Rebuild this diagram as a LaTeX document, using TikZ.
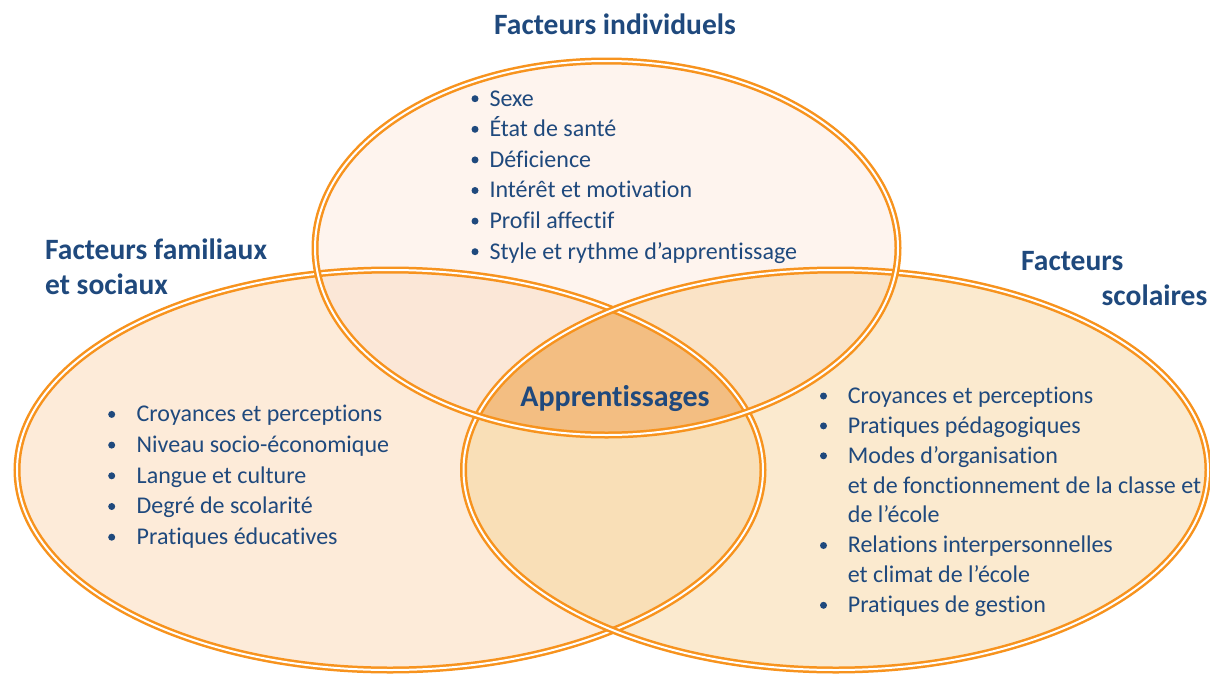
\documentclass[tikz,border=0pt]{standalone}
\usepackage{fontspec}
\setmainfont{Carlito}[Ligatures={NoCommon}]
\definecolor{txtblue}{HTML}{1F497D}
\definecolor{lineor}{HTML}{F7931E}
\definecolor{ctop}{HTML}{FEF4EE}
\definecolor{cleft}{HTML}{FDEBD9}
\definecolor{cright}{HTML}{FBEACF}
\definecolor{ctl}{HTML}{FBE7D7}
\definecolor{ctr}{HTML}{FAE3C6}
\definecolor{clr}{HTML}{F9DFB7}
\definecolor{ccen}{HTML}{F3BE82}
\tikzset{
  ring/.style={draw=lineor, line width=2.5pt, double=white, double distance=2pt},
  title/.style={text=txtblue, font=\fontsize{29.5}{34}\selectfont\bfseries, inner sep=0pt},
  item/.style={text=txtblue, font=\fontsize{24}{29}\selectfont, inner sep=0pt, anchor=base west},
  dot/.style={circle, fill=txtblue, inner sep=0pt, minimum size=7pt}
}
\def\ellT{(606.5,248) ellipse [x radius=291.5pt, y radius=187pt]}
\def\ellL{(390,470) ellipse [x radius=373pt, y radius=200pt]}
\def\ellR{(835.75,470) ellipse [x radius=372.25pt, y radius=200pt]}
\begin{document}
\begin{tikzpicture}[x=1pt,y=-1pt]
\useasboundingbox (0,0) rectangle (1210,675);
% fills
\fill[ctop] \ellT;
\fill[cleft] \ellL;
\fill[cright] \ellR;
\begin{scope}\clip \ellT; \fill[ctl] \ellL; \end{scope}
\begin{scope}\clip \ellT; \fill[ctr] \ellR; \end{scope}
\begin{scope}\clip \ellL; \fill[clr] \ellR; \end{scope}
\begin{scope}\clip \ellT; \clip \ellL; \fill[ccen] \ellR; \end{scope}
% borders
\draw[ring] \ellL;
\draw[ring] \ellR;
\draw[ring] \ellT;
% titles
\node[title, anchor=base] (tind) at (615,34) {Facteurs individuels};
\node[title, anchor=base west] (tfam1) at (45,259.3) {Facteurs familiaux};
\node[title, anchor=base west] (tfam2) at (45,294.3) {et sociaux};
\node[title, anchor=base west] (tsco1) at (1021,270) {Facteurs};
\node[title, anchor=base east] (tsco2) at (1207.5,305.7) {scolaires};
\node[text=txtblue, font=\fontsize{30}{36}\selectfont\bfseries, inner sep=0pt, anchor=base] (app) at (615,406.7) {Apprentissages};
% top list
\foreach \t [count=\i] in {Sexe,État de santé,Déficience,Intérêt et motivation,Profil affectif,Style et rythme d’apprentissage}{
  \pgfmathsetmacro{\yy}{106+30.6*(\i-1)}
  \node[dot] (td\i) at (475,\yy-7.3) {};
  \node[item] (ti\i) at (489.3,\yy) {\t};
}
% left list
\foreach \t [count=\i] in {Croyances et perceptions,Niveau socio-économique,Langue et culture,Degré de scolarité,Pratiques éducatives}{
  \pgfmathsetmacro{\yy}{421.7+30.7*(\i-1)}
  \node[dot] (ld\i) at (111.7,\yy-7.3) {};
  \node[item] (li\i) at (136.5,\yy) {\t};
}
% right list
\foreach \t/\b [count=\i] in {Croyances et perceptions/1,Pratiques pédagogiques/1,Modes d’organisation/1,et de fonctionnement de la classe et/0,de l’école/0,Relations interpersonnelles/1,et climat de l’école/0,Pratiques de gestion/1}{
  \pgfmathsetmacro{\yy}{403.3+29.9*(\i-1)}
  \ifnum\b=1 \node[dot] (rd\i) at (823.5,\yy-7.3) {}; \fi
  \node[item] (ri\i) at (847.7,\yy) {\t};
}
\end{tikzpicture}
\end{document}
